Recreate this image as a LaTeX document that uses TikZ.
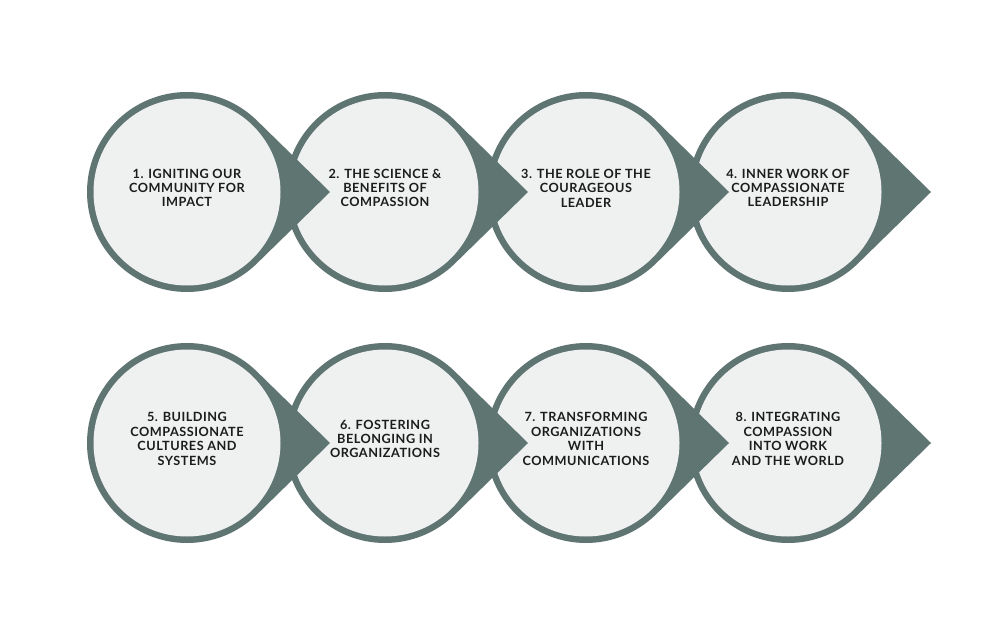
\documentclass[tikz,border=0pt]{standalone}
\usepackage{fontspec}
\setmainfont{Lato}[LetterSpace=4]
\definecolor{ring}{HTML}{5F7572}
\definecolor{disc}{HTML}{EFF1F1}
\definecolor{ink}{HTML}{1C1C1C}
\tikzset{
  teardrop/.style={fill=ring, draw=none},
  discnode/.style={circle, fill=disc, minimum size=187pt, inner sep=0pt, draw=none},
  steplabel/.style={align=center, font=\bfseries\fontsize{12.7}{14.4}\selectfont, text=ink, inner sep=0pt}
}
\begin{document}
\begin{tikzpicture}[x=1pt,y=1pt]
\useasboundingbox[fill=white] (0,0) rectangle (1000,625);
\foreach \n/\cx/\cy/\txt in {
  4/788/433/{4. INNER WORK OF\\COMPASSIONATE\\LEADERSHIP},
  3/586/433/{3. THE ROLE OF THE\\COURAGEOUS\\LEADER},
  2/385/433/{2. THE SCIENCE \&\\BENEFITS OF\\COMPASSION},
  1/187/433/{1. IGNITING OUR\\COMMUNITY FOR\\IMPACT},
  8/788/182/{8. INTEGRATING\\COMPASSION\\INTO WORK\\AND THE WORLD},
  7/586/182/{7. TRANSFORMING\\ORGANIZATIONS\\WITH\\COMMUNICATIONS},
  6/385/182/{6. FOSTERING\\BELONGING IN\\ORGANIZATIONS},
  5/187/182/{5. BUILDING\\COMPASSIONATE\\CULTURES AND\\SYSTEMS}} {
  \coordinate (tip\n) at (\cx+143,\cy);
  \fill[teardrop] (tip\n) -- ([shift={(\cx,\cy)}]45.6:100) arc[start angle=45.6, end angle=314.4, radius=100] -- cycle;
  \node[discnode] (c\n) at (\cx,\cy) {};
  \node[steplabel] (t\n) at (\cx,\cy+4) {\txt};
}
\end{tikzpicture}
\end{document}
